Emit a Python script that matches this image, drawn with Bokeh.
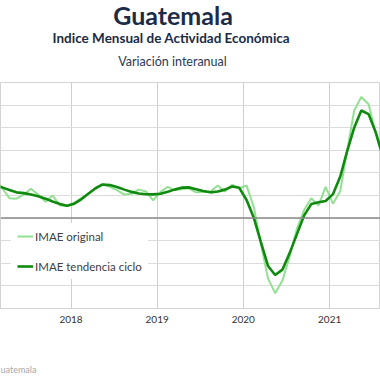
import pandas as pd
from bokeh.plotting import figure
from bokeh.layouts import column
from bokeh.models import (Label, FixedTicker, Grid, Span, Legend, LegendItem,
                          Range1d, DatetimeTickFormatter, ColumnDataSource)
from bokeh.embed import file_html
from bokeh.resources import INLINE

# ---- data (monthly, year-on-year % change) ----
periods = pd.period_range("2017-02", "2021-08", freq="M").astype(str).tolist()

imae_original = [4.3, 3.3, 2.2, 2.15, 2.6, 3.25, 2.6, 1.8, 2.5, 1.4, 1.33,
                 1.7, 2.25, 2.65, 3.3, 3.7, 3.46, 3.1, 2.6, 2.7, 3.15, 2.95, 1.95,
                 2.9, 3.45, 3.1, 3.2, 3.3, 2.85, 2.9, 2.95, 3.6, 2.95, 3.7, 3.3,
                 3.6, 1.2, -2.8, -6.7, -8.3, -6.9, -4.3, -1.2, 0.9, 2.2, 1.4, 3.45,
                 1.6, 3.0, 7.3, 11.9, 13.4, 12.6, 9.4, 6.5]

imae_tendencia = [3.6, 3.4, 3.1, 2.85, 2.76, 2.62, 2.42, 2.15, 1.83, 1.55, 1.36,
                  1.6, 2.1, 2.7, 3.3, 3.72, 3.65, 3.45, 3.15, 2.9, 2.72, 2.63, 2.62,
                  2.7, 2.92, 3.15, 3.37, 3.4, 3.2, 3.0, 2.85, 2.95, 3.15, 3.5, 3.35,
                  2.0, 0.0, -2.6, -5.3, -6.3, -5.7, -3.9, -1.8, 0.3, 1.55, 1.75, 1.9,
                  2.65, 4.6, 7.3, 10.0, 11.9, 11.5, 9.5, 6.8]

year_ticks = ["2018-01-01", "2019-01-01", "2020-01-01", "2021-01-01"]
y_ticks = [-10, -7.5, -5, -2.5, 0, 2.5, 5, 7.5, 10, 12.5, 15]

title_text = "Guatemala"
subtitle_text = "Indice Mensual de  Actividad Económica"
subsubtitle_text = "Variación interanual"
source_text = "uatemala"

dates = pd.to_datetime(periods) + pd.Timedelta(days=14)
src = ColumnDataSource(dict(x=dates, orig=imae_original, trend=imae_tendencia))

W = 380
HEADER_H = 82
FRAME_H = 226
MAIN_H = FRAME_H + 30
FOOTER_H = 380 - HEADER_H - MAIN_H


def blank_fig(h):
    f = figure(width=W, height=h, output_backend="svg", toolbar_location=None,
               x_axis_location=None, y_axis_location=None, title=None,
               x_range=Range1d(0, 1), y_range=Range1d(0, 1),
               min_border=0, min_border_left=0, min_border_right=0,
               min_border_top=0, min_border_bottom=0)
    f.grid.visible = False
    f.outline_line_color = None
    f.background_fill_color = "white"
    f.border_fill_color = "white"
    return f


def lab(text, x, y_from_bottom, size, style, color, align="center"):
    return Label(x=x, y=y_from_bottom, x_units="screen", y_units="screen",
                 text=text, text_font="Lato", text_font_size=size,
                 text_font_style=style, text_color=color, text_align=align,
                 text_baseline="alphabetic")


# ---- header ----
header = blank_fig(HEADER_H)
header.add_layout(lab(title_text, 172.5, HEADER_H - 14.5, "25px", "bold", "#1c2b46"))
header.add_layout(lab(subtitle_text, 172.5, HEADER_H - 37, "13.5px", "bold", "#1c2b46"))
header.add_layout(lab(subsubtitle_text, 172, HEADER_H - 61, "12.5px", "normal", "#2b3a55"))

# ---- main chart ----
x0 = pd.Timestamp("2018-01-01") - pd.Timedelta(days=70.5 / 86.2 * 365.25)
x1 = pd.Timestamp("2018-01-01") + pd.Timedelta(days=309.5 / 86.2 * 365.25)

p = figure(width=W, height=MAIN_H, output_backend="svg", toolbar_location=None,
           x_axis_type="datetime", y_axis_location=None, title=None,
           x_range=Range1d(x0, x1), y_range=Range1d(-10, 15),
           min_border_left=0, min_border_right=0, min_border_top=0,
           min_border_bottom=MAIN_H - FRAME_H)
p.background_fill_color = "white"
p.border_fill_color = "white"
p.outline_line_color = "#d4d4d4"
p.outline_line_width = 1

tick_ms = [pd.Timestamp(t).value // 10**6 for t in year_ticks]
p.xgrid.ticker = FixedTicker(ticks=tick_ms)
p.xgrid.grid_line_color = "#cfcfcf"
p.xgrid.grid_line_width = 1
p.add_layout(Grid(dimension=1, ticker=FixedTicker(ticks=y_ticks),
                  grid_line_color="#dcdcdc", grid_line_width=1))
p.add_layout(Span(location=0, dimension="width", line_color="#8a8a8a", line_width=1.5))

ax = p.xaxis[0]
ax.ticker = FixedTicker(ticks=tick_ms)
ax.formatter = DatetimeTickFormatter(years="%Y", months="%Y", days="%Y")
ax.axis_line_color = "#d4d4d4"
ax.major_tick_line_color = None
ax.minor_tick_line_color = None
ax.major_tick_out = 0
ax.major_tick_in = 0
ax.minor_tick_out = 0
ax.major_label_text_font = "Lato"
ax.major_label_text_font_size = "10px"
ax.major_label_text_color = "#333333"
ax.major_label_standoff = 7

r1 = p.line("x", "orig", source=src, line_color="#93e093", line_width=2)
r2 = p.line("x", "trend", source=src, line_color="#0f8a0f", line_width=2.6)

legend = Legend(items=[LegendItem(label="IMAE original", renderers=[r1]),
                       LegendItem(label="IMAE tendencia ciclo", renderers=[r2])],
                location=(11, 29), padding=6, spacing=16, glyph_width=16,
                glyph_height=14, label_height=14, label_standoff=2,
                label_text_font="Lato", label_text_font_size="11.5px",
                label_text_color="#404040", border_line_alpha=0,
                background_fill_color="white", background_fill_alpha=1, margin=0)
p.add_layout(legend, "center")

# ---- footer ----
footer = blank_fig(FOOTER_H)
footer.add_layout(lab(source_text, 0, FOOTER_H - (369 - HEADER_H - MAIN_H), "9px",
                      "normal", "#a8a8a8", align="left"))

layout = column(header, p, footer, spacing=0)
open("out.html", "w").write(file_html(layout, INLINE))
